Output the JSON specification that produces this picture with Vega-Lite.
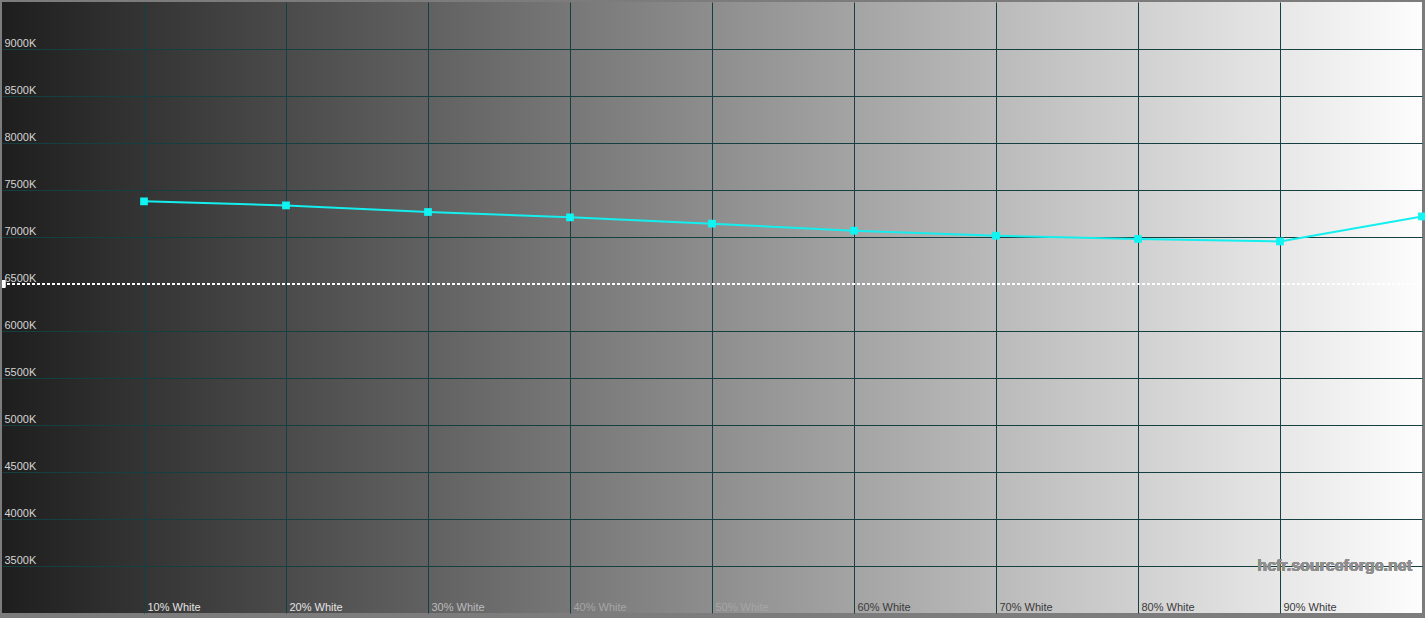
{
  "$schema": "https://vega.github.io/schema/vega-lite/v6.json",
  "width": 1420,
  "height": 611,
  "autosize": {"type": "none"},
  "padding": {"left": 2, "top": 2, "right": 3, "bottom": 5},
  "background": "#7c7c7c",
  "view": {
    "stroke": null,
    "fill": {
      "gradient": "linear",
      "x1": 0, "y1": 0, "x2": 1, "y2": 0,
      "stops": [
        {"offset": 0, "color": "#1e1e1e"},
        {"offset": 1, "color": "#fdfdfd"}
      ]
    }
  },
  "data": {
    "values": [
      {"level": 10, "cct": 7379},
      {"level": 20, "cct": 7336},
      {"level": 30, "cct": 7266},
      {"level": 40, "cct": 7209},
      {"level": 50, "cct": 7142},
      {"level": 60, "cct": 7067},
      {"level": 70, "cct": 7014},
      {"level": 80, "cct": 6979},
      {"level": 90, "cct": 6953},
      {"level": 100, "cct": 7219}
    ]
  },
  "encoding": {
    "x": {
      "field": "level",
      "type": "quantitative",
      "title": null,
      "scale": {"domain": [0, 100], "nice": false, "zero": false},
      "axis": {
        "values": [10, 20, 30, 40, 50, 60, 70, 80, 90],
        "labelExpr": "datum.value + '% White'",
        "domain": false,
        "ticks": false,
        "tickSize": 0,
        "labelPadding": -3,
        "labelAlign": "left",
        "labelBaseline": "alphabetic",
        "labelOffset": 3,
        "labelFont": "Liberation Sans",
        "labelFontSize": 11,
        "labelColor": {
          "condition": [
            {"test": "datum.value <= 20", "value": "#e4e4e4"},
            {"test": "datum.value <= 30", "value": "#bcbcbc"},
            {"test": "datum.value <= 50", "value": "#a6a6a6"}
          ],
          "value": "#3a3a3a"
        },
        "grid": true,
        "gridColor": "#153f40",
        "gridWidth": 1,
        "gridOpacity": 1
      }
    },
    "y": {
      "field": "cct",
      "type": "quantitative",
      "title": null,
      "scale": {"domain": [3000, 9500], "nice": false, "zero": false},
      "axis": {
        "values": [3500, 4000, 4500, 5000, 5500, 6000, 6500, 7000, 7500, 8000, 8500, 9000],
        "labelExpr": "datum.value + 'K'",
        "domain": false,
        "ticks": false,
        "tickSize": 0,
        "labelPadding": -2,
        "labelAlign": "left",
        "labelBaseline": "alphabetic",
        "labelOffset": -3,
        "labelFont": "Liberation Sans",
        "labelFontSize": 11,
        "labelColor": "#d4d4d4",
        "grid": true,
        "gridColor": {
          "condition": {"test": "datum.value === 6500", "value": "transparent"},
          "value": "#153f40"
        },
        "gridWidth": 1,
        "gridOpacity": 1
      }
    }
  },
  "layer": [
    {
      "mark": {"type": "rule", "color": "#ffffff", "strokeDash": [3, 2], "strokeWidth": 1},
      "encoding": {"y": {"datum": 6500}, "x": {"datum": 0}, "x2": {"datum": 100}}
    },
    {
      "mark": {"type": "tick", "color": "#ffffff", "orient": "vertical", "size": 7, "thickness": 3},
      "encoding": {"y": {"datum": 6500}, "x": {"datum": 0.12}}
    },
    {
      "mark": {
        "type": "text",
        "text": "hcfr.sourceforge.net",
        "align": "right",
        "baseline": "middle",
        "font": "Liberation Sans",
        "fontWeight": "bold",
        "fontSize": 16,
        "color": "#8e8e8e"
      },
      "encoding": {"x": {"datum": 99.3}, "y": {"datum": 3500}}
    },
    {
      "mark": {"type": "line", "color": "#14eeee", "strokeWidth": 2}
    },
    {
      "mark": {"type": "point", "shape": "square", "filled": true, "size": 60, "color": "#10f4f4", "opacity": 1}
    }
  ]
}
